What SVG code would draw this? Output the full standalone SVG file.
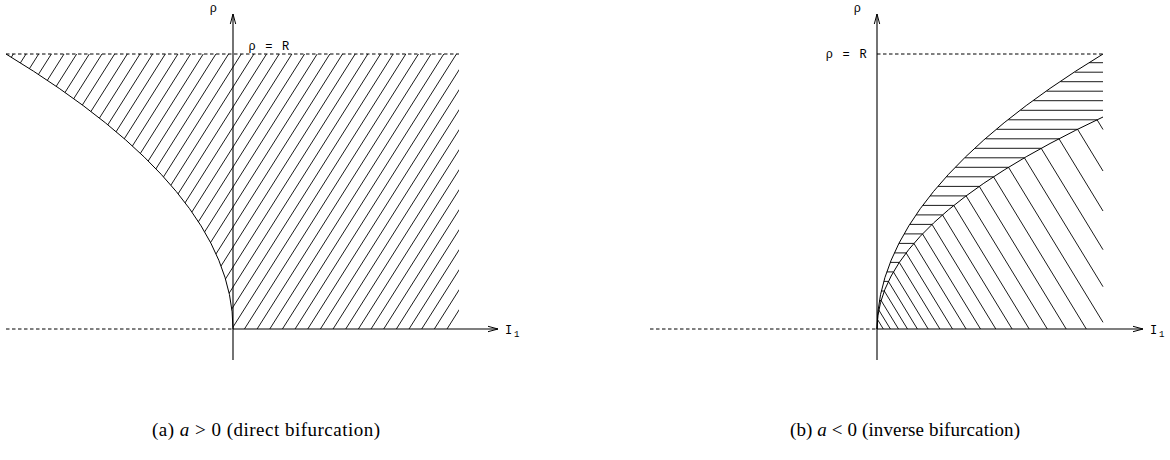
<svg xmlns="http://www.w3.org/2000/svg" width="1170" height="460" viewBox="0 0 1170 460">
<style>
.ln{fill:none;stroke:#000;stroke-width:1}
.ax{fill:none;stroke:#000;stroke-width:1.1}
.ds{fill:none;stroke:#000;stroke-width:1;stroke-dasharray:3.5 2.5}
.ht{fill:none;stroke:#000;stroke-width:0.9}
.lb{font-family:"Liberation Mono",monospace;font-size:12px;fill:#000;letter-spacing:1.2px}
.sb{font-family:"Liberation Mono",monospace;font-size:9px;fill:#000}
.cap{font-family:"Liberation Serif",serif;font-size:19px;fill:#000}
</style>
<defs>
<marker id="arr" markerUnits="userSpaceOnUse" viewBox="-11 -4 13 8" markerWidth="13" markerHeight="8" refX="0" refY="0" orient="auto" overflow="visible">
<path d="M-10,-2.7 L0,0 L-10,2.7" fill="none" stroke="#000" stroke-width="1"/>
</marker>
<clipPath id="clipA"><path d="M233 329 Q233 191.5 6 54 L459 54 L459 329 Z"/></clipPath>
</defs>
<rect width="1170" height="460" fill="#fff"/>

<g id="panel-a">
<g id="hatch-a" clip-path="url(#clipA)">
<path class="ht" d="M447 329L621.05 54M434.34 329L608.39 54M421.68 329L595.73 54M409.02 329L583.07 54M396.36 329L570.41 54M383.7 329L557.75 54M371.04 329L545.09 54M358.38 329L532.43 54M345.72 329L519.77 54M333.06 329L507.11 54M320.4 329L494.45 54M307.74 329L481.79 54M295.08 329L469.13 54M282.42 329L456.47 54M269.76 329L443.81 54M257.1 329L431.15 54M244.44 329L418.49 54M231.78 329L405.83 54M219.12 329L393.17 54M206.46 329L380.51 54M193.8 329L367.85 54M181.14 329L355.19 54M168.48 329L342.53 54M155.82 329L329.87 54M143.16 329L317.21 54M130.5 329L304.55 54M117.84 329L291.89 54M105.18 329L279.23 54M92.52 329L266.57 54M79.86 329L253.91 54M67.2 329L241.25 54M54.54 329L228.59 54M41.88 329L215.93 54M29.22 329L203.27 54M16.56 329L190.61 54M3.9 329L177.95 54M-8.76 329L165.29 54M-21.42 329L152.63 54M-34.08 329L139.97 54M-46.74 329L127.31 54M-59.4 329L114.65 54M-72.06 329L101.99 54M-84.72 329L89.33 54M-97.38 329L76.67 54M-110.04 329L64.01 54M-122.7 329L51.35 54M-135.36 329L38.69 54M-148.02 329L26.03 54M-160.68 329L13.37 54"/>
</g>
<path id="curve-a" class="ln" d="M233 329 Q233 191.5 6 54"/>
<path id="rhoR-a" class="ds" d="M6 54 H459"/>
<path id="neg-axis-a" class="ds" d="M6 329 H233"/>
<path id="axis-x-a" class="ax" d="M233 329 H498" marker-end="url(#arr)"/>
<path id="axis-y-a" class="ax" d="M233 360 V14" marker-end="url(#arr)"/>
<text class="lb" x="214" y="12" text-anchor="middle">ρ</text>
<text class="lb" x="248.5" y="50">ρ = R</text>
<text class="lb" x="505" y="333.5">I</text>
<text class="sb" x="514" y="337">1</text>
<text class="cap" x="152" y="436" textLength="228" lengthAdjust="spacing">(a)  <tspan font-style="italic">a</tspan> &gt; 0 (direct bifurcation)</text>
</g>

<g id="panel-b">
<g id="hatch-b-horizontal">
<path class="ht" d="M1089 62.7H1103M1074.8 72.2H1103M1060.5 81.7H1103M1046.6 91.2H1103M1033.4 100.7H1103M1020.5 110.3H1103M1008.3 119.8H1097.1M996.6 129.3H1077.6M985.5 138.8H1059M975 148.3H1041.2M964.9 157.8H1024.4M955.4 167.3H1008.5M946.5 176.8H993.5M938 186.4H979.3M930.1 195.9H966.1M922.8 205.4H953.8M916.1 214.9H942.5M909.8 224.4H932M904.1 233.9H922.5M899 243.4H913.9M894.4 252.9H906.1M890.3 262.4H899.3M886.8 271.9H893.4M883.8 281.4H888.4M881.3 291H884.3M879.4 300.5H881.1M878.1 310H878.8"/>
</g>
<g id="hatch-b-diagonal">
<path class="ht" d="M1097.1 119.8L1103 129.5M1077.6 129.3L1103 171M1059 138.8L1103 211M1041.2 148.3L1103 249.7M1024.4 157.8L1103 286.7M1008.5 167.3L1103 322.3M993.5 176.8L1086.3 329M979.3 186.4L1066.2 329M966.1 195.9L1047.3 329M953.8 205.4L1029.2 329M942.5 214.9L1012.1 329M932 224.4L995.8 329M922.5 233.9L980.5 329M913.9 243.4L966.1 329M906.1 252.9L952.5 329M899.3 262.4L939.9 329M893.4 271.9L928.2 329M888.4 281.4L917.4 329M884.3 291L907.5 329M881.1 300.5L898.5 329M878.8 310L890.4 329M877.5 319.5L883.3 329"/>
</g>
<path id="curve-b-outer" class="ln" d="M877 329 Q877 191.5 1103 54"/>
<path id="curve-b-inner" class="ln" d="M877 329 Q877 223 1103 117"/>
<path id="rhoR-b" class="ds" d="M877 54 H1103"/>
<path id="neg-axis-b" class="ds" d="M650 329 H877"/>
<path id="axis-x-b" class="ax" d="M877 329 H1143" marker-end="url(#arr)"/>
<path id="axis-y-b" class="ax" d="M877 360 V14" marker-end="url(#arr)"/>
<text class="lb" x="858" y="12" text-anchor="middle">ρ</text>
<text class="lb" x="825.8" y="58">ρ = R</text>
<text class="lb" x="1150" y="333.5">I</text>
<text class="sb" x="1159" y="337">1</text>
<text class="cap" x="790" y="436" textLength="230" lengthAdjust="spacing">(b)  <tspan font-style="italic">a</tspan> &lt; 0 (inverse bifurcation)</text>
</g>
</svg>
